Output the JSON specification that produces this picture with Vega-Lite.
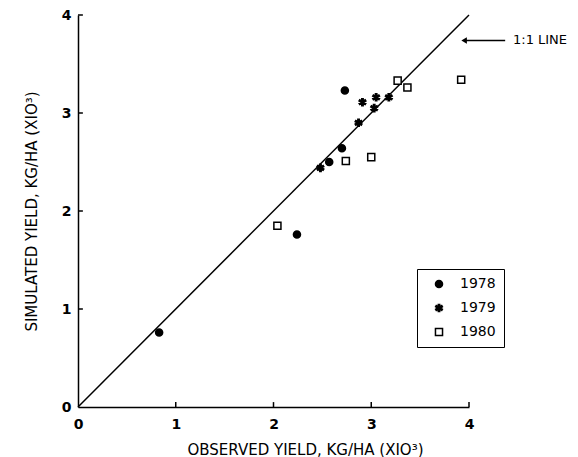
{
  "$schema": "https://vega.github.io/schema/vega-lite/v6.json",
  "width": 391,
  "height": 392,
  "autosize": {"type": "none"},
  "padding": {"left": 78, "top": 15, "right": 109, "bottom": 50},
  "background": "white",
  "config": {
    "view": {"stroke": null},
    "font": "DejaVu Sans",
    "axis": {
      "grid": false,
      "domainColor": "black",
      "domainWidth": 1.5,
      "ticks": false,
      "labelFlush": false,
      "labelColor": "black",
      "labelFont": "DejaVu Sans",
      "labelFontSize": 14,
      "labelFontWeight": "bold",
      "titleColor": "black",
      "titleFont": "DejaVu Sans",
      "titleFontSize": 15,
      "titleFontWeight": "normal"
    }
  },
  "datasets": {
    "obs": [
      {"observed": 0.83, "simulated": 0.76, "year": "1978"},
      {"observed": 2.24, "simulated": 1.76, "year": "1978"},
      {"observed": 2.57, "simulated": 2.50, "year": "1978"},
      {"observed": 2.70, "simulated": 2.64, "year": "1978"},
      {"observed": 2.73, "simulated": 3.23, "year": "1978"},
      {"observed": 2.48, "simulated": 2.44, "year": "1979"},
      {"observed": 2.87, "simulated": 2.90, "year": "1979"},
      {"observed": 2.91, "simulated": 3.11, "year": "1979"},
      {"observed": 3.03, "simulated": 3.05, "year": "1979"},
      {"observed": 3.05, "simulated": 3.16, "year": "1979"},
      {"observed": 3.18, "simulated": 3.16, "year": "1979"},
      {"observed": 2.04, "simulated": 1.85, "year": "1980"},
      {"observed": 2.74, "simulated": 2.51, "year": "1980"},
      {"observed": 3.00, "simulated": 2.55, "year": "1980"},
      {"observed": 3.27, "simulated": 3.33, "year": "1980"},
      {"observed": 3.37, "simulated": 3.26, "year": "1980"},
      {"observed": 3.92, "simulated": 3.34, "year": "1980"}
    ],
    "oneone": [
      {"observed": 0, "simulated": 0},
      {"observed": 4, "simulated": 4}
    ],
    "ticks": [
      {"v": 1, "zero": 0, "len": 0.05},
      {"v": 2, "zero": 0, "len": 0.05},
      {"v": 3, "zero": 0, "len": 0.05},
      {"v": 4, "zero": 0, "len": 0.05}
    ],
    "arrow": [
      {"observed": 3.95, "observed2": 4.37, "simulated": 3.74, "label": "1:1 LINE", "labelx": 4.45}
    ]
  },
  "layer": [
    {
      "data": {"name": "oneone"},
      "mark": {"type": "line", "color": "black", "strokeWidth": 1.5},
      "encoding": {
        "x": {
          "field": "observed", "type": "quantitative",
          "scale": {"domain": [0, 4], "nice": false},
          "axis": {"values": [0, 1, 2, 3, 4], "format": "d", "title": "OBSERVED YIELD,  KG/HA  (XIO³)", "labelPadding": 10, "titlePadding": 11, "titleX": 227}
        },
        "y": {
          "field": "simulated", "type": "quantitative",
          "scale": {"domain": [0, 4], "nice": false},
          "axis": {"values": [0, 1, 2, 3, 4], "format": "d", "title": "SIMULATED YIELD,  KG/HA  (XIO³)", "labelPadding": 7, "titlePadding": 22}
        }
      }
    },
    {
      "data": {"name": "ticks"},
      "mark": {"type": "rule", "color": "black", "strokeWidth": 1.5},
      "encoding": {
        "x": {"field": "v", "type": "quantitative"},
        "y": {"field": "zero", "type": "quantitative"},
        "y2": {"field": "len"}
      }
    },
    {
      "data": {"name": "ticks"},
      "mark": {"type": "rule", "color": "black", "strokeWidth": 1.5},
      "encoding": {
        "y": {"field": "v", "type": "quantitative"},
        "x": {"field": "zero", "type": "quantitative"},
        "x2": {"field": "len"}
      }
    },
    {
      "data": {"name": "obs"},
      "mark": {"type": "point", "stroke": "black", "strokeWidth": 1.5, "opacity": 1, "size": 50},
      "encoding": {
        "x": {"field": "observed", "type": "quantitative"},
        "y": {"field": "simulated", "type": "quantitative"},
        "shape": {
          "field": "year", "type": "nominal",
          "scale": {"domain": ["1978", "1979", "1980"], "range": ["circle", "M-0.2,-1L0.2,-1L0.2,1L-0.2,1ZM0.766,0.673L-0.966,-0.327L-0.766,-0.673L0.966,0.327ZM0.966,-0.327L-0.766,0.673L-0.966,0.327L0.766,-0.673Z", "square"]},
          "legend": {
            "title": null,
            "orient": "none",
            "legendX": 339,
            "legendY": 254,
            "strokeColor": "black",
            "padding": 8,
            "symbolOffset": 7,
            "rowPadding": 10,
            "labelOffset": 14,
            "labelFontSize": 14,
            "labelFont": "DejaVu Sans",
            "labelColor": "black",
            "symbolSize": 50,
            "encode": {"symbols": {"update": {"stroke": {"value": "black"}, "strokeWidth": {"value": 1.5}}}}
          }
        },
        "fill": {
          "field": "year", "type": "nominal",
          "scale": {"domain": ["1978", "1979", "1980"], "range": ["black", "black", "white"]},
          "legend": {"title": null, "orient": "none", "legendX": 339, "legendY": 254}
        }
      }
    },
    {
      "data": {"name": "arrow"},
      "mark": {"type": "rule", "color": "black", "strokeWidth": 1.5},
      "encoding": {
        "x": {"field": "observed", "type": "quantitative"},
        "x2": {"field": "observed2"},
        "y": {"field": "simulated", "type": "quantitative"}
      }
    },
    {
      "data": {"name": "arrow"},
      "mark": {"type": "point", "shape": "triangle-left", "filled": true, "color": "black", "size": 40, "opacity": 1},
      "encoding": {
        "x": {"field": "observed", "type": "quantitative"},
        "y": {"field": "simulated", "type": "quantitative"}
      }
    },
    {
      "data": {"name": "arrow"},
      "mark": {"type": "text", "align": "left", "baseline": "middle", "fontSize": 13, "font": "DejaVu Sans", "color": "black"},
      "encoding": {
        "x": {"field": "labelx", "type": "quantitative"},
        "y": {"field": "simulated", "type": "quantitative"},
        "text": {"field": "label"}
      }
    }
  ]
}
